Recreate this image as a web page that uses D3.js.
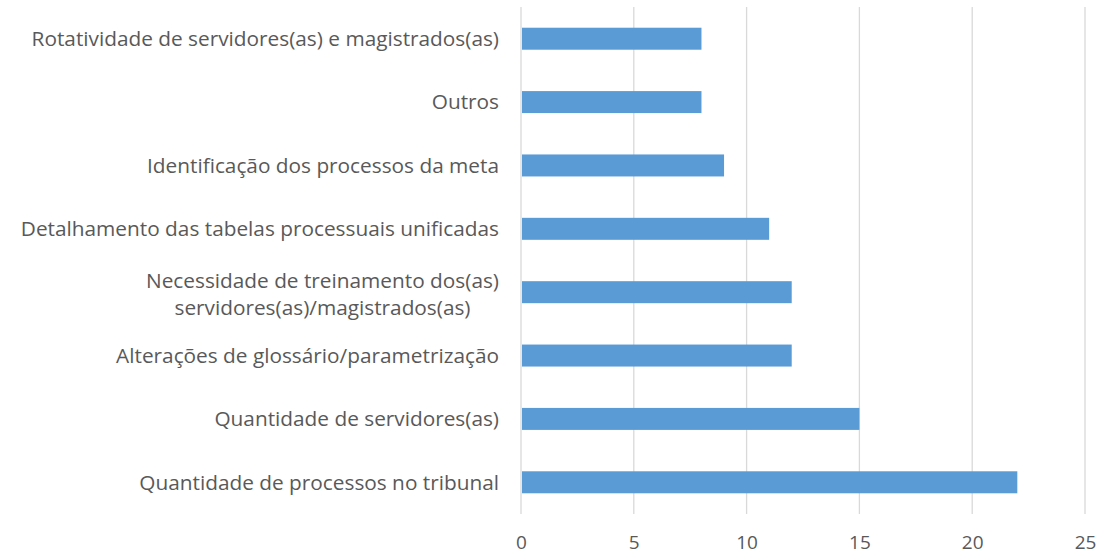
<!DOCTYPE html>
<html lang="pt">
<head>
  <meta charset="UTF-8" />
  <title>Dificuldades</title>
  <script src="https://cdn.jsdelivr.net/npm/d3@7"></script>
  <style>
    body { margin: 0; background: #fff; }
    text { font-family: "Open Sans", sans-serif; fill: #595959; }
  </style>
</head>
<body>
<script>
  // categories top to bottom
  const categories = [
    ["Rotatividade de servidores(as) e magistrados(as)"],
    ["Outros"],
    ["Identificação dos processos da meta"],
    ["Detalhamento das tabelas processuais unificadas"],
    ["Necessidade de treinamento dos(as)", "servidores(as)/magistrados(as)"],
    ["Alterações de glossário/parametrização"],
    ["Quantidade de servidores(as)"],
    ["Quantidade de processos no tribunal"]
  ];
  const values = [8, 8, 9, 11, 12, 12, 15, 22];
  const xTicks = [0, 5, 10, 15, 20, 25];

  const width = 1112, height = 555;
  const fontSize = 20.8;
  const svg = d3.select("body").append("svg").attr("width", width).attr("height", height);

  const x = d3.scaleLinear().domain([0, 25]).range([521, 1085]);
  const y = d3.scaleBand()
    .domain(d3.range(categories.length))
    .range([7, 514])
    .paddingInner(0.653)
    .paddingOuter(0.327);

  // gridlines
  svg.append("g")
    .selectAll("line")
    .data(xTicks)
    .join("line")
    .attr("x1", d => x(d)).attr("x2", d => x(d))
    .attr("y1", 7).attr("y2", 514)
    .attr("stroke", "#d9d9d9")
    .attr("stroke-width", 1.3);

  // bars
  svg.append("g")
    .selectAll("rect")
    .data(values)
    .join("rect")
    .attr("x", x(0) + 1)
    .attr("y", (d, i) => y(i))
    .attr("width", d => x(d) - x(0) - 1)
    .attr("height", y.bandwidth())
    .attr("fill", "#5b9bd5");

  // x axis labels
  const xAxis = d3.axisBottom(x).tickValues(xTicks).tickSize(0).tickPadding(0);
  const gx = svg.append("g").attr("transform", "translate(0,535)").call(xAxis);
  gx.select(".domain").remove();
  gx.selectAll("text").attr("font-size", 19).attr("dy", "0.71em")
    .style("font-family", "\"Open Sans\", sans-serif").attr("fill", "#595959");

  // category labels
  const labels = svg.append("g")
    .selectAll("text")
    .data(categories)
    .join("text")
    .attr("font-size", fontSize)
    .attr("y", (d, i) => y(i) + y.bandwidth() / 2);

  labels.each(function(lines) {
    const t = d3.select(this);
    if (lines.length === 1) {
      t.attr("x", 499).attr("text-anchor", "end").attr("dy", "0.35em").text(lines[0]);
    } else {
      // multi-line: lines centred within a block right-aligned to the axis
      t.attr("text-anchor", "middle");
      const widths = lines.map(l => {
        const s = t.append("tspan").text(l);
        const w = s.node().getComputedTextLength();
        s.remove();
        return w;
      });
      const cx = 499 - d3.max(widths) / 2;
      t.selectAll("tspan")
        .data(lines)
        .join("tspan")
        .attr("x", cx)
        .attr("dy", (l, j) => j === 0 ? "-0.21em" : "1.3em")
        .text(l => l);
    }
  });
</script>
</body>
</html>
